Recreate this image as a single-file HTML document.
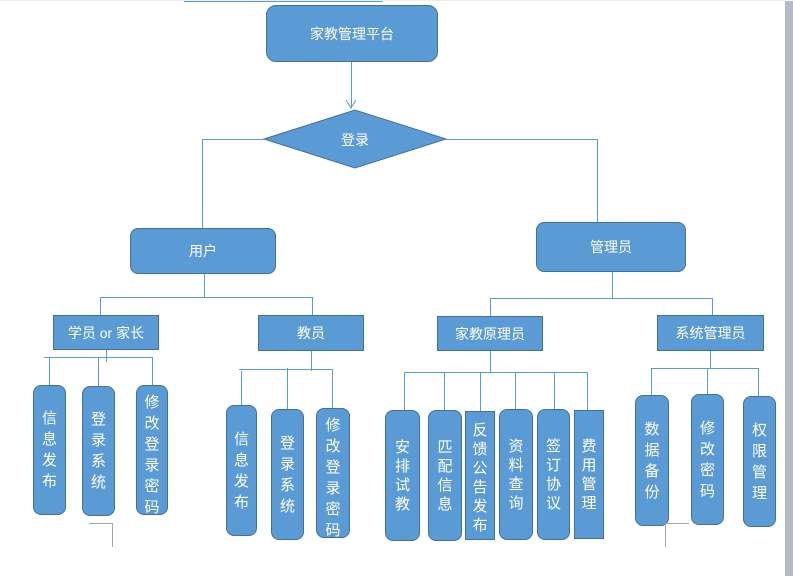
<!DOCTYPE html>
<html><head><meta charset="utf-8"><style>
body{margin:0;width:793px;height:576px;background:#fff;position:relative;overflow:hidden;font-family:"Liberation Sans","Noto Sans CJK SC",sans-serif;}
.b{position:absolute;box-sizing:border-box;background:#5b9bd5;border:1.5px solid #41719c;color:#fff;display:flex;align-items:center;justify-content:center;font-size:14px;}
.r{border-radius:8px}
.v{flex-direction:column;line-height:21px;font-size:15px;overflow:hidden;text-align:center;width:33px}
.s{line-height:19px}
.v span{display:block}
.t{justify-content:flex-start;padding-top:6px}
.l{position:absolute;background:#5b9bd5}
.g{position:absolute;background:#a6a6a6}
</style></head><body>
<div style="position:absolute;left:184px;top:0;width:199px;height:2px;background:#5b9bd5"></div>
<div style="position:absolute;left:785px;top:1px;width:8px;height:575px;background:#b5b9c6"></div>
<div style="position:absolute;left:0;top:0;width:785px;height:1px;background:#eee"></div>

<div class="b r" style="left:266px;top:5px;width:172px;height:57px;border-radius:10px">家教管理平台</div>
<div class="l" style="left:351px;top:62px;width:1px;height:46px"></div>
<svg style="position:absolute;left:0;top:0" width="793" height="576">
<polyline points="346,100 351,108 356,100" fill="none" stroke="#5b9bd5" stroke-width="1"/>
<polygon points="264,139 355,110 446,139 355,168" fill="#5b9bd5" stroke="#41719c" stroke-width="1"/>
<text x="355" y="145" fill="#fff" font-size="14" text-anchor="middle" font-family="Liberation Sans, Noto Sans CJK SC, sans-serif">登录</text>
</svg>
<div class="l" style="left:202px;top:139px;width:62px;height:1px"></div>
<div class="l" style="left:202px;top:139px;width:1px;height:89px"></div>
<div class="l" style="left:446px;top:139px;width:152px;height:1px"></div>
<div class="l" style="left:597px;top:139px;width:1px;height:83px"></div>

<div class="b r" style="left:130px;top:228px;width:146px;height:46px">用户</div>
<div class="b r" style="left:536px;top:222px;width:150px;height:50px">管理员</div>

<div class="l" style="left:204px;top:274px;width:1px;height:23px"></div>
<div class="l" style="left:100px;top:297px;width:213px;height:1px"></div>
<div class="l" style="left:100px;top:297px;width:1px;height:18px"></div>
<div class="l" style="left:312px;top:297px;width:1px;height:18px"></div>
<div class="l" style="left:612px;top:272px;width:1px;height:26px"></div>
<div class="l" style="left:490px;top:298px;width:223px;height:1px"></div>
<div class="l" style="left:490px;top:298px;width:1px;height:18px"></div>
<div class="l" style="left:712px;top:298px;width:1px;height:17px"></div>

<div class="b" style="left:53px;top:315px;width:106px;height:35px">学员 or 家长</div>
<div class="b" style="left:258px;top:315px;width:106px;height:36px">教员</div>
<div class="b" style="left:437px;top:316px;width:106px;height:35px">家教原理员</div>
<div class="b" style="left:657px;top:315px;width:107px;height:36px">系统管理员</div>

<!-- 学员 children -->
<div class="l" style="left:106px;top:350px;width:1px;height:12px"></div>
<div class="l" style="left:44px;top:357px;width:109px;height:1px"></div>
<div class="l" style="left:49px;top:357px;width:1px;height:28px"></div>
<div class="l" style="left:98px;top:358px;width:1px;height:28px"></div>
<div class="l" style="left:152px;top:358px;width:1px;height:27px"></div>
<div class="b r v" style="left:33px;top:385px;height:130px"><span>信</span><span>息</span><span>发</span><span>布</span></div>
<div class="b r v" style="left:82px;top:386px;height:130px"><span>登</span><span>录</span><span>系</span><span>统</span></div>
<div class="b r v t" style="left:136px;top:385px;height:130px;width:32px"><span>修</span><span>改</span><span>登</span><span>录</span><span>密</span><span>码</span></div>
<div class="g" style="left:89px;top:523px;width:24px;height:1px"></div>
<div class="g" style="left:112px;top:523px;width:1px;height:24px"></div>

<!-- 教员 children -->
<div class="l" style="left:311px;top:351px;width:1px;height:20px"></div>
<div class="l" style="left:239px;top:369px;width:93px;height:1px"></div>
<div class="l" style="left:241px;top:371px;width:1px;height:34px"></div>
<div class="l" style="left:287px;top:368px;width:1px;height:41px"></div>
<div class="l" style="left:332px;top:369px;width:1px;height:39px"></div>
<div class="b r v" style="left:226px;top:405px;height:131px;width:31px"><span>信</span><span>息</span><span>发</span><span>布</span></div>
<div class="b r v" style="left:271px;top:409px;height:131px"><span>登</span><span>录</span><span>系</span><span>统</span></div>
<div class="b r v t" style="left:316px;top:408px;height:130px;width:34px"><span>修</span><span>改</span><span>登</span><span>录</span><span>密</span><span>码</span></div>

<!-- 家教原理员 children -->
<div class="l" style="left:490px;top:351px;width:1px;height:21px"></div>
<div class="l" style="left:404px;top:372px;width:184px;height:1px"></div>
<div class="l" style="left:404px;top:372px;width:1px;height:38px"></div>
<div class="l" style="left:444px;top:372px;width:1px;height:38px"></div>
<div class="l" style="left:480px;top:372px;width:1px;height:39px"></div>
<div class="l" style="left:515px;top:372px;width:1px;height:37px"></div>
<div class="l" style="left:554px;top:372px;width:1px;height:37px"></div>
<div class="l" style="left:587px;top:372px;width:1px;height:38px"></div>
<div class="b r v s" style="left:385px;top:410px;height:131px;width:35px"><span>安</span><span>排</span><span>试</span><span>教</span></div>
<div class="b r v s" style="left:428px;top:410px;height:131px;width:34px"><span>匹</span><span>配</span><span>信</span><span>息</span></div>
<div class="b v t s" style="left:465px;top:411px;height:129px;width:30px;padding-top:9px"><span>反</span><span>馈</span><span>公</span><span>告</span><span>发</span><span>布</span></div>
<div class="b r v s" style="left:499px;top:409px;height:131px;width:34px"><span>资</span><span>料</span><span>查</span><span>询</span></div>
<div class="b r v s" style="left:537px;top:409px;height:131px;width:33px"><span>签</span><span>订</span><span>协</span><span>议</span></div>
<div class="b v s" style="left:574px;top:410px;height:129px;width:30px"><span>费</span><span>用</span><span>管</span><span>理</span></div>

<!-- 系统管理员 children -->
<div class="l" style="left:710px;top:351px;width:1px;height:18px"></div>
<div class="l" style="left:651px;top:368px;width:107px;height:1px"></div>
<div class="l" style="left:651px;top:368px;width:1px;height:27px"></div>
<div class="l" style="left:707px;top:368px;width:1px;height:26px"></div>
<div class="l" style="left:758px;top:368px;width:1px;height:28px"></div>
<div class="b r v" style="left:635px;top:395px;height:131px;width:34px"><span>数</span><span>据</span><span>备</span><span>份</span></div>
<div class="b r v" style="left:691px;top:394px;height:131px;width:33px"><span>修</span><span>改</span><span>密</span><span>码</span></div>
<div class="b r v" style="left:743px;top:396px;height:131px;width:33px"><span>权</span><span>限</span><span>管</span><span>理</span></div>
<div class="g" style="left:665px;top:523px;width:24px;height:1px"></div>
<div class="g" style="left:665px;top:523px;width:1px;height:24px"></div>
</body></html>
